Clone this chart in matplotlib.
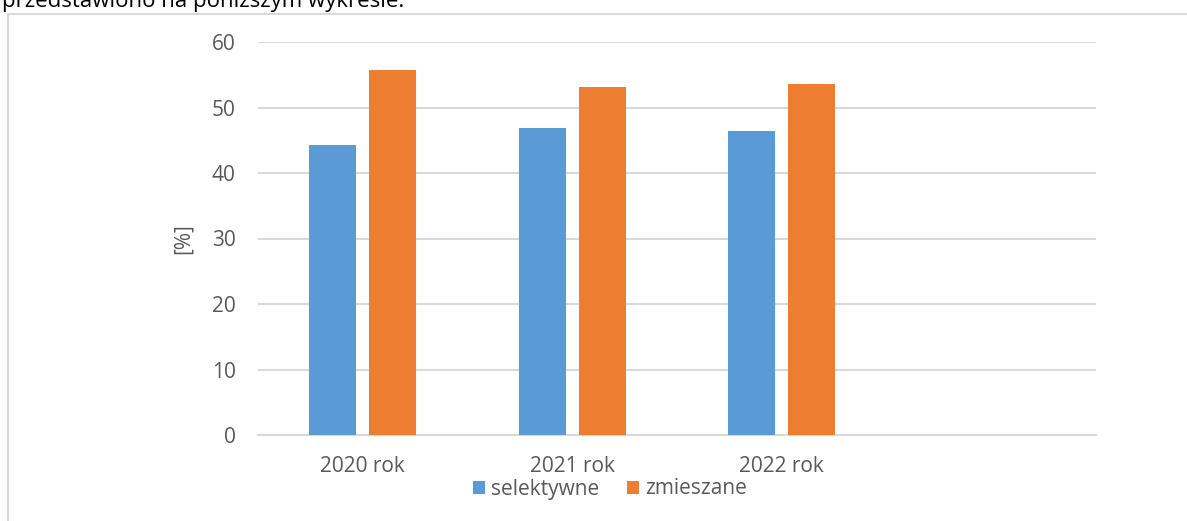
import matplotlib.pyplot as plt
import numpy as np
from matplotlib.patches import Rectangle

plt.rcParams['font.family'] = ['Open Sans', 'DejaVu Sans']

# Udział odpadów [%]
categories = ['2020 rok', '2021 rok', '2022 rok', '']
selektywne = [44.3, 46.9, 46.4, None]
zmieszane = [55.7, 53.1, 53.6, None]

blue = '#5b9bd5'
orange = '#ed7d31'
grid_col = '#d9d9d9'
text_col = '#595959'

fig = plt.figure(figsize=(11.87, 5.21), dpi=100)

# tekst akapitu nad wykresem (ucięty u góry)
fig.text(0.002, 1 - 7 / 521, 'przedstawiono na poniższym wykresie.',
         fontsize=16, color='black', va='baseline', ha='left')

# ramka obszaru wykresu
fig.patches.append(Rectangle((8 / 1187, -0.1), 1.1, 1 - 14 / 521 + 0.1,
                             transform=fig.transFigure, fill=False,
                             edgecolor=grid_col, linewidth=1.5))

ax = fig.add_axes([258 / 1187, 1 - 435 / 521, 838 / 1187, (435 - 42) / 521])

x = np.arange(len(categories))
width = 0.224
offset = 0.143
sel = [v if v is not None else 0 for v in selektywne]
zm = [v if v is not None else 0 for v in zmieszane]
ax.bar(x - offset, sel, width, color=blue, label='selektywne', zorder=3)
ax.bar(x + offset, zm, width, color=orange, label='zmieszane', zorder=3)

ax.set_xlim(-0.5, len(categories) - 0.5)
ax.set_ylim(0, 60)
ax.set_yticks(range(0, 61, 10))
ax.yaxis.grid(True, color=grid_col, linewidth=1.5, zorder=0)
ax.set_axisbelow(True)
ax.tick_params(axis='both', length=0, labelsize=15, colors=text_col)
ax.tick_params(axis='y', pad=16)
ax.tick_params(axis='x', pad=15)
ax.set_xticks(x)
ax.set_xticklabels(categories)
for s in ['top', 'right', 'left']:
    ax.spines[s].set_visible(False)
ax.spines['bottom'].set_color(grid_col)
ax.spines['bottom'].set_linewidth(1.5)

ax.set_ylabel('[%]', fontsize=15, color=text_col, labelpad=13)

fig.legend(loc='center', bbox_to_anchor=(610 / 1187, 1 - 489 / 521), ncol=2,
           frameon=False, fontsize=15, labelcolor=text_col,
           handlelength=0.6, handleheight=0.6, handletextpad=0.3,
           columnspacing=1.3)

fig.savefig('out.png', dpi=100)
